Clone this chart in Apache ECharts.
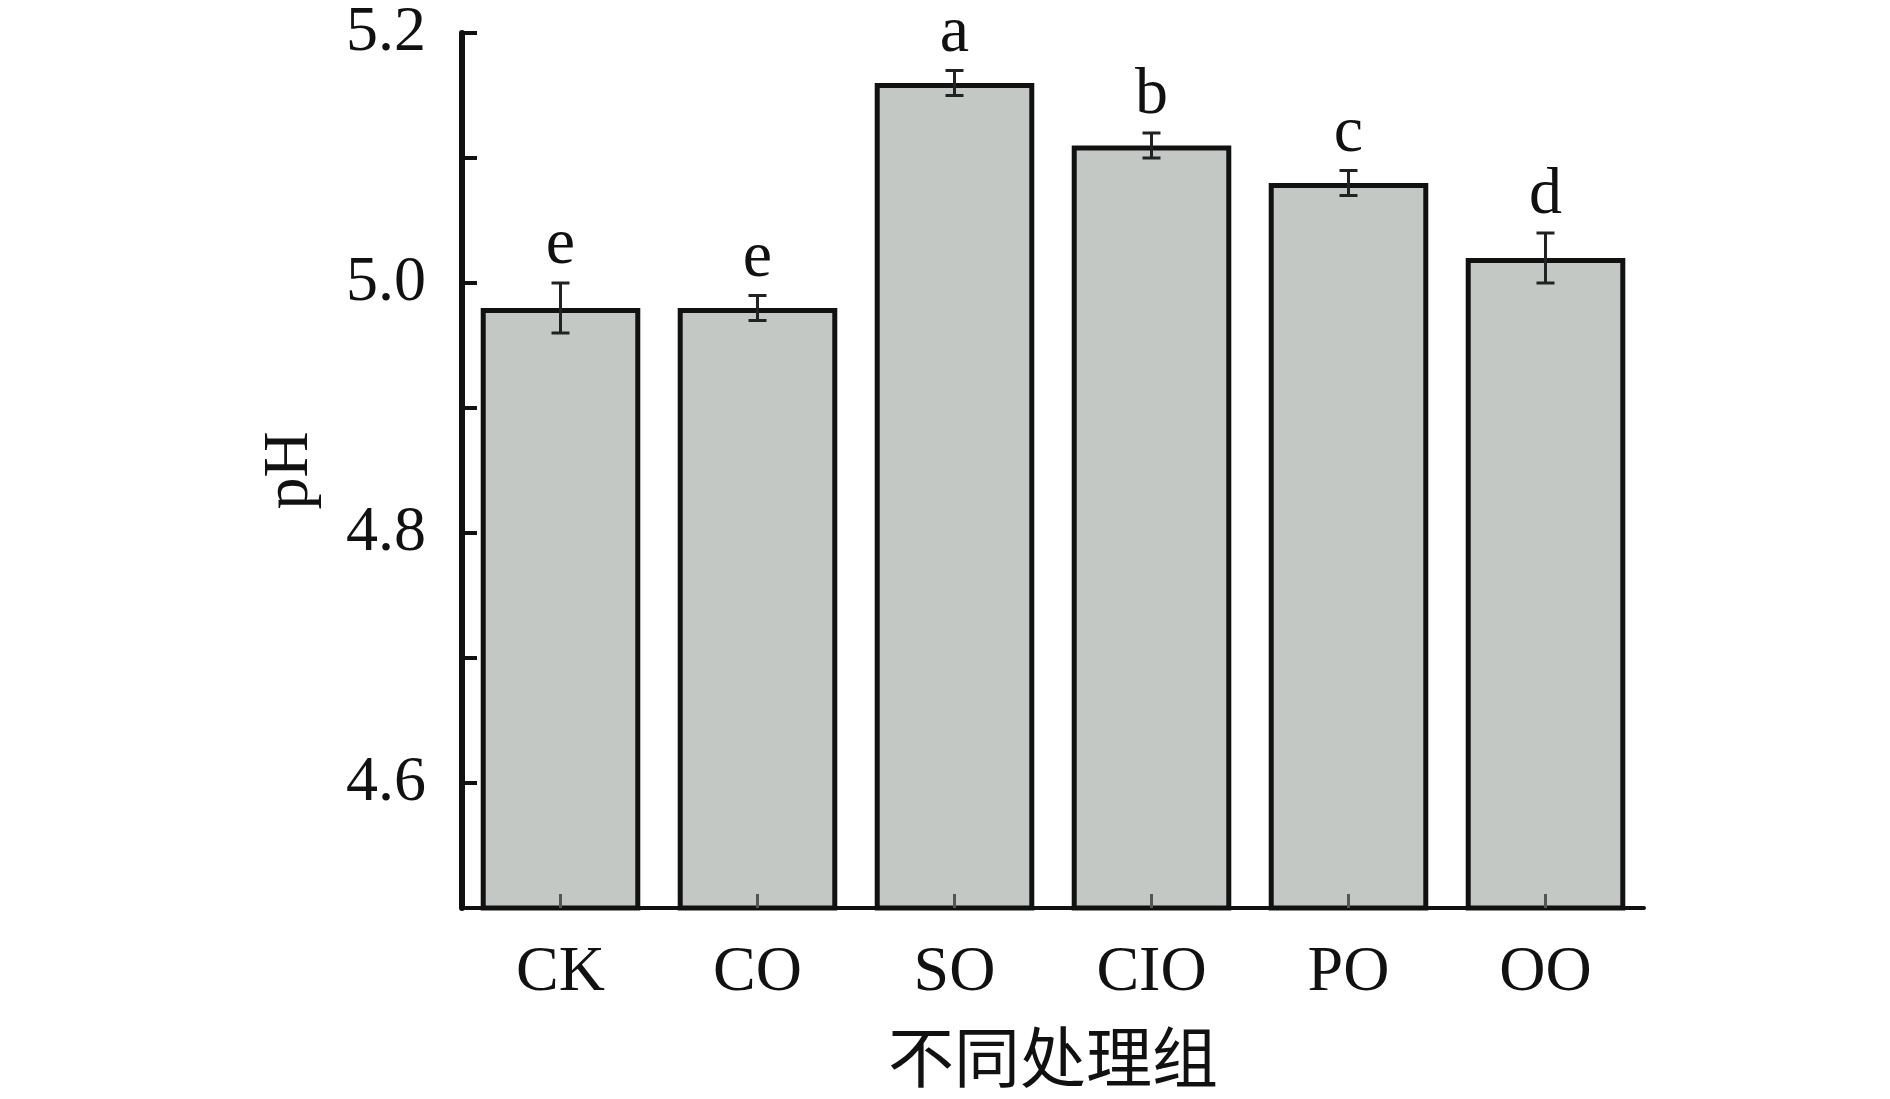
<!DOCTYPE html>
<html>
<head>
<meta charset="utf-8">
<script src="https://cdn.jsdelivr.net/npm/echarts@6/dist/echarts.min.js"></script>
<style>
  html, body { margin: 0; padding: 0; background: #fff; }
  #chart { width: 1890px; height: 1099px; }
</style>
</head>
<body>
<div id="chart"></div>
<script>
// data
var groups = ['CK', 'CO', 'SO', 'CIO', 'PO', 'OO']
var phMean = [4.98, 4.98, 5.16, 5.11, 5.08, 5.02]
var phErr = [0.02, 0.01, 0.01, 0.01, 0.01, 0.02]
var sigLetters = ['e', 'e', 'a', 'b', 'c', 'd']
var yTickLabels = ['4.6', '4.8', '5.0', '5.2']

var serif = 'Liberation Serif'
var chart = echarts.init(document.getElementById('chart'))

var errData = groups.map(function (g, i) {
  return [i, phMean[i], phErr[i]]
})

var option = {
  animation: false,
  grid: { left: 462, right: 246, top: 33, bottom: 191 },
  xAxis: {
    type: 'category',
    data: groups,
    z: 5,
    name: '不同处理组',
    nameLocation: 'middle',
    nameGap: 116,
    nameTextStyle: { fontFamily: 'Noto Sans CJK SC', fontSize: 66, color: '#111' },
    axisLine: { show: true, lineStyle: { color: '#111', width: 4 } },
    axisTick: { show: true, inside: true, alignWithLabel: true, length: 14, lineStyle: { color: '#555', width: 3 } },
    axisLabel: { fontFamily: serif, fontSize: 64, color: '#111', margin: 33 }
  },
  yAxis: {
    type: 'value',
    min: 4.5,
    max: 5.2,
    interval: 0.1,
    name: 'pH',
    nameLocation: 'middle',
    nameRotate: 90,
    nameGap: 140,
    nameTextStyle: { fontFamily: serif, fontSize: 64, color: '#111' },
    splitLine: { show: false },
    axisLine: { show: true, lineStyle: { color: '#111', width: 6 } },
    axisTick: { show: true, inside: true, length: 15, lineStyle: { color: '#111', width: 4 } },
    axisLabel: {
      fontFamily: serif, fontSize: 64, color: '#111', margin: 36,
      formatter: function (v) {
        var s = v.toFixed(1)
        return yTickLabels.indexOf(s) >= 0 ? s : ''
      }
    }
  },
  series: [
    {
      type: 'bar',
      data: phMean,
      barWidth: '81%',
      itemStyle: { color: '#c3c8c4', borderColor: '#111', borderWidth: 5 }
    },
    {
      type: 'custom',
      z: 10,
      data: errData,
      renderItem: function (params, api) {
        var i = api.value(0)
        var m = api.value(1)
        var e = api.value(2)
        var top = api.coord([i, m + e])
        var bot = api.coord([i, m - e])
        var cap = 9
        var st = { stroke: '#222', lineWidth: 3 }
        return {
          type: 'group',
          children: [
            { type: 'line', shape: { x1: top[0], y1: top[1], x2: bot[0], y2: bot[1] }, style: st },
            { type: 'line', shape: { x1: top[0] - cap, y1: top[1], x2: top[0] + cap, y2: top[1] }, style: st },
            { type: 'line', shape: { x1: bot[0] - cap, y1: bot[1], x2: bot[0] + cap, y2: bot[1] }, style: st },
            {
              type: 'text',
              x: top[0],
              y: top[1] - 4,
              style: {
                text: sigLetters[i],
                font: '66px ' + serif,
                fill: '#111',
                align: 'center',
                verticalAlign: 'bottom'
              }
            }
          ]
        }
      }
    }
  ]
}

chart.setOption(option)
</script>
</body>
</html>
